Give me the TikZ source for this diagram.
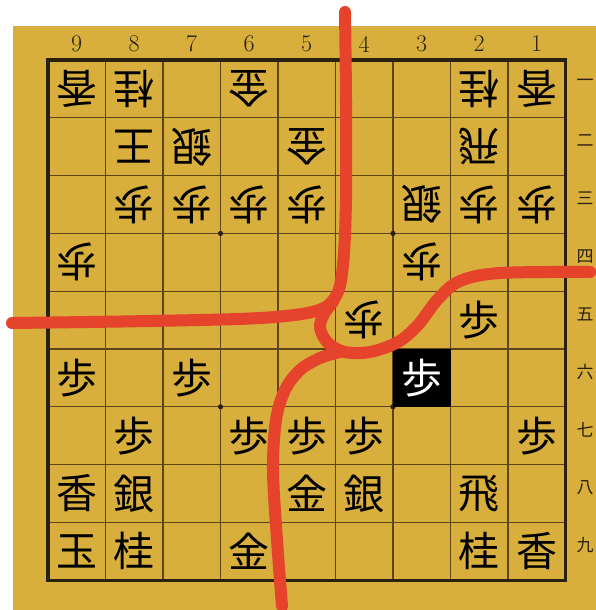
\documentclass[tikz,border=0pt]{standalone}
\usepackage{fontspec}
\newfontfamily\jp{Noto Sans CJK JP}
\definecolor{boardbg}{HTML}{D8AE3C}
\definecolor{gridc}{HTML}{5E4418}
\definecolor{borderc}{HTML}{2A2010}
\definecolor{redmark}{HTML}{E5432B}
\tikzset{
  piece/.style={inner sep=0pt, font=\jp\fontsize{41}{41}\selectfont, text=black},
  gpiece/.style={piece, rotate=180},
  hlpiece/.style={piece, text=white},
  colnum/.style={inner sep=0pt, font=\fontsize{24}{24}\selectfont, text=borderc},
  rownum/.style={inner sep=0pt, font=\jp\fontsize{17}{17}\selectfont, text=borderc},
  gridline/.style={draw=gridc, line width=1.1pt},
  borderline/.style={draw=borderc, line width=3.2pt},
  redline/.style={draw=redmark, line width=12pt, line cap=round, line join=round},
}
\newcommand{\cx}[1]{48+(9-#1+0.5)*57.5}
\newcommand{\cy}[1]{60+(#1-0.5)*57.8}
\newcommand{\sentep}[3]{\node[piece] (s#1#2) at ({\cx{#1}},{\cy{#2}}) {#3};}
\newcommand{\gotep}[3]{\node[gpiece] (g#1#2) at ({\cx{#1}},{\cy{#2}}) {#3};}
\begin{document}
\begin{tikzpicture}[x=1pt,y=-1pt]
\useasboundingbox (0,0) rectangle (596,610);
\fill[white] (0,0) rectangle (596,610);
\fill[boardbg] (13,26) rectangle (596,610);
% grid
\foreach \i in {1,...,8} {
  \draw[gridline] ({48+\i*57.5},60) -- ({48+\i*57.5},580.2);
  \draw[gridline] (48,{60+\i*57.8}) -- (565.5,{60+\i*57.8});
}
\draw[borderline] (48,60) rectangle (565.5,580.2);
% star points
\foreach \px/\py in {3/3,6/3,3/6,6/6}
  \fill[borderc] ({48+\px*57.5},{60+\py*57.8}) circle (2.6pt);
% column numbers
\foreach \c in {1,...,9}
  \node[colnum] (col\c) at ({\cx{\c}},44) {\c};
% row labels
\foreach \r/\k in {1/一,2/二,3/三,4/四,5/五,6/六,7/七,8/八,9/九}
  \node[rownum] (row\r) at (585,{\cy{\r}-6}) {\k};
% highlight
\fill[black] ({48+6*57.5},{60+5*57.8}) rectangle ({48+7*57.5},{60+6*57.8});
% gote pieces
\gotep{9}{1}{香}\gotep{8}{1}{桂}\gotep{6}{1}{金}\gotep{2}{1}{桂}\gotep{1}{1}{香}
\gotep{8}{2}{王}\gotep{7}{2}{銀}\gotep{5}{2}{金}\gotep{2}{2}{飛}
\gotep{8}{3}{歩}\gotep{7}{3}{歩}\gotep{6}{3}{歩}\gotep{5}{3}{歩}\gotep{3}{3}{銀}\gotep{2}{3}{歩}\gotep{1}{3}{歩}
\gotep{9}{4}{歩}\gotep{3}{4}{歩}
\gotep{4}{5}{歩}
% sente pieces
\sentep{2}{5}{歩}
\sentep{9}{6}{歩}\sentep{7}{6}{歩}
\node[hlpiece] (s36) at ({\cx{3}},{\cy{6}}) {歩};
\sentep{8}{7}{歩}\sentep{6}{7}{歩}\sentep{5}{7}{歩}\sentep{4}{7}{歩}\sentep{1}{7}{歩}
\sentep{9}{8}{香}\sentep{8}{8}{銀}\sentep{5}{8}{金}\sentep{4}{8}{銀}\sentep{2}{8}{飛}
\sentep{9}{9}{玉}\sentep{8}{9}{桂}\sentep{6}{9}{金}\sentep{2}{9}{桂}\sentep{1}{9}{香}
% red marks
\draw[redline] plot[smooth, tension=0.55] coordinates {(345,12) (346,100) (346,200) (343,265) (336,296) (316,311) (260,318) (150,321) (12,323)};
\draw[redline] plot[smooth, tension=0.55] coordinates {(590,272) (500,273) (460,281) (438,299) (418,325) (398,342) (370,352) (345,352) (328,343) (320,328) (324,314) (333,302)};
\draw[redline] plot[smooth, tension=0.55] coordinates {(282,606) (277,540) (273,470) (276,420) (285,390) (300,370) (320,358) (340,352)};
\end{tikzpicture}
\end{document}
